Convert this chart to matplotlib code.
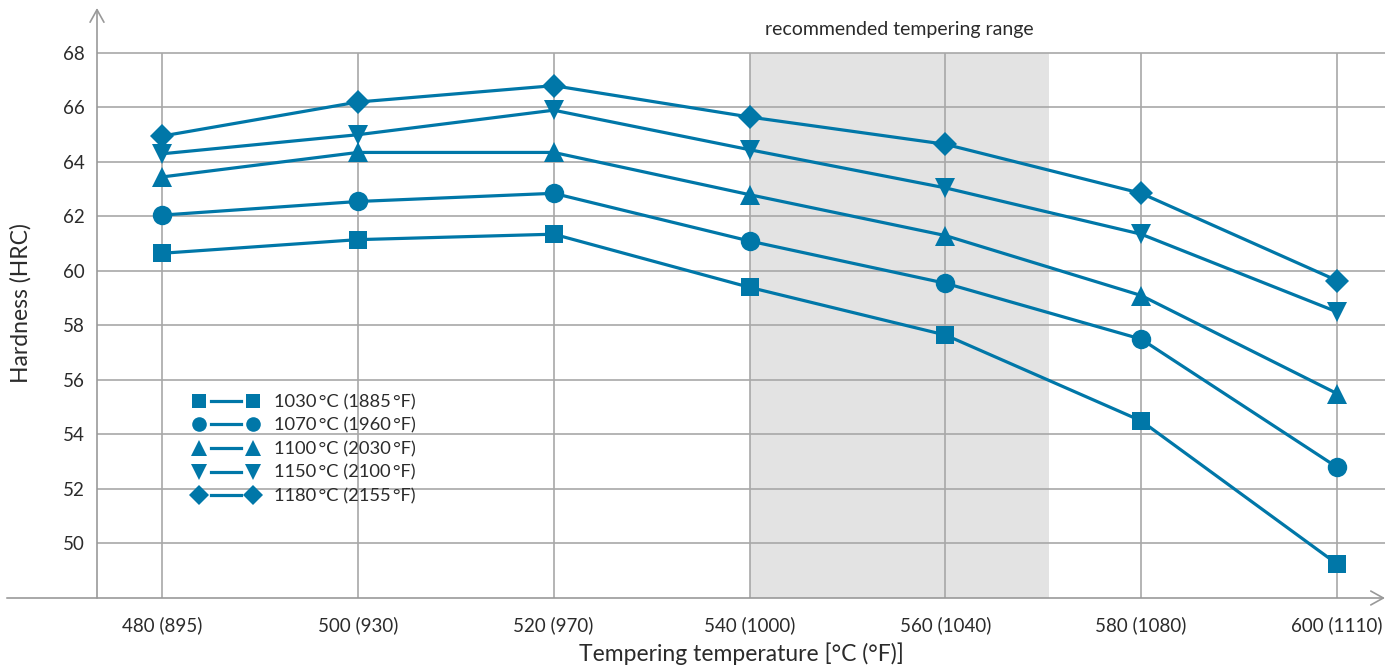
import matplotlib
matplotlib.use("Agg")
import matplotlib.pyplot as plt
from matplotlib.legend_handler import HandlerLine2DCompound

plt.rcParams['font.family'] = ['Lato', 'DejaVu Sans']

# tempering temperatures (x categories)
temps = ["480 (895)", "500 (930)", "520 (970)", "540 (1000)",
         "560 (1040)", "580 (1080)", "600 (1110)"]

# hardness after tempering, one series per hardening temperature
hrc_1030 = [60.65, 61.15, 61.35, 59.4, 57.65, 54.5, 49.25]
hrc_1070 = [62.05, 62.55, 62.85, 61.1, 59.55, 57.5, 52.8]
hrc_1100 = [63.45, 64.35, 64.35, 62.8, 61.3, 59.1, 55.5]
hrc_1150 = [64.3, 65.0, 65.9, 64.45, 63.05, 61.35, 58.5]
hrc_1180 = [64.95, 66.2, 66.8, 65.65, 64.65, 62.85, 59.65]

labels = ["1030\u2009°C (1885\u2009°F)", "1070\u2009°C (1960\u2009°F)",
          "1100\u2009°C (2030\u2009°F)", "1150\u2009°C (2100\u2009°F)",
          "1180\u2009°C (2155\u2009°F)"]
markers = ["s", "o", "^", "v", "D"]
msizes = [13.5, 14, 14, 14, 12.5]
leg_msizes = [10, 10.5, 11, 11, 10]

# recommended tempering range in category units (540 °C up to ~570 °C)
range_start, range_end = 3, 4.53
yticks = [50, 52, 54, 56, 58, 60, 62, 64, 66, 68]

blue = "#0077a8"
grid = "#a8a8a8"
txt = "#2b2b2b"


class GapLineHandler(HandlerLine2DCompound):
    """Legend entry: two smaller markers with a short line that stops before them."""

    def __init__(self, msize, **kw):
        super().__init__(**kw)
        self.msize = msize

    def create_artists(self, legend, orig_handle, xdescent, ydescent,
                       width, height, fontsize, trans):
        line, mk = super().create_artists(legend, orig_handle, xdescent, ydescent,
                                          width, height, fontsize, trans)
        mk.set_markersize(self.msize)
        xm = mk.get_xdata()
        gap = 12 * 72 / 100  # pixels -> points
        line.set_xdata([xm[0] + gap, xm[-1] - gap])
        line.set_ydata([mk.get_ydata()[0]] * 2)
        return [line, mk]


fig = plt.figure(figsize=(13.99, 6.66), dpi=100)
ax = fig.add_axes([97 / 1399, 68 / 666, 1288 / 1399, 590 / 666])

x = range(len(temps))
ax.set_xlim(-0.332, 6.245)
ax.set_ylim(48, 69.65)

ax.axvspan(range_start, range_end, ymin=0, ymax=(68 - 48) / (69.65 - 48),
           color="#e3e3e3", lw=0, zorder=0)
ax.vlines(x, 48, 68, color=grid, lw=1.2, zorder=1)
ax.hlines(yticks, -0.332, 6.245, color=grid, lw=1.2, zorder=1)

series = [hrc_1030, hrc_1070, hrc_1100, hrc_1150, hrc_1180]
lines = []
for vals, lab, m, ms in zip(series, labels, markers, msizes):
    ln, = ax.plot(x, vals, color=blue, lw=2.3, marker=m, markersize=ms,
                  markeredgewidth=0, label=lab, zorder=3)
    lines.append(ln)

ax.text((range_start + range_end) / 2, 68.85, "recommended tempering range",
        ha="center", va="center", fontsize=14, color=txt)

for s in ax.spines.values():
    s.set_visible(False)

ax.set_xticks(list(x))
ax.set_xticklabels(temps)
ax.set_yticks(yticks)
ax.tick_params(axis="both", length=0, labelsize=13.5, labelcolor=txt)
ax.tick_params(axis="x", pad=13)
ax.tick_params(axis="y", pad=9)

ax.set_xlabel("Tempering temperature [°C (°F)]", fontsize=16.5, color=txt, labelpad=6)
ax.set_ylabel("Hardness (HRC)", fontsize=16.5, color=txt, labelpad=22)

# axes with open arrow heads
arrow = dict(arrowstyle="->,head_length=0.45,head_width=0.25", color="#999999",
             lw=1.2, mutation_scale=20, shrinkA=0, shrinkB=0)
ax.annotate("", xy=(1.0, 0), xytext=(-0.07, 0), xycoords="axes fraction",
            arrowprops=arrow, annotation_clip=False)
ax.annotate("", xy=(0, 1.0), xytext=(0, 0), xycoords="axes fraction",
            arrowprops=arrow, annotation_clip=False)

leg = ax.legend(handles=lines, loc="upper left", bbox_to_anchor=(0.0675, 0.3615),
                frameon=False, numpoints=2, handlelength=3.55, handletextpad=0.85,
                labelspacing=0.41, fontsize=13.2, borderpad=0,
                handler_map={l: GapLineHandler(ms) for l, ms in zip(lines, leg_msizes)})
for t in leg.get_texts():
    t.set_color(txt)

fig.savefig("out.png", dpi=100)
